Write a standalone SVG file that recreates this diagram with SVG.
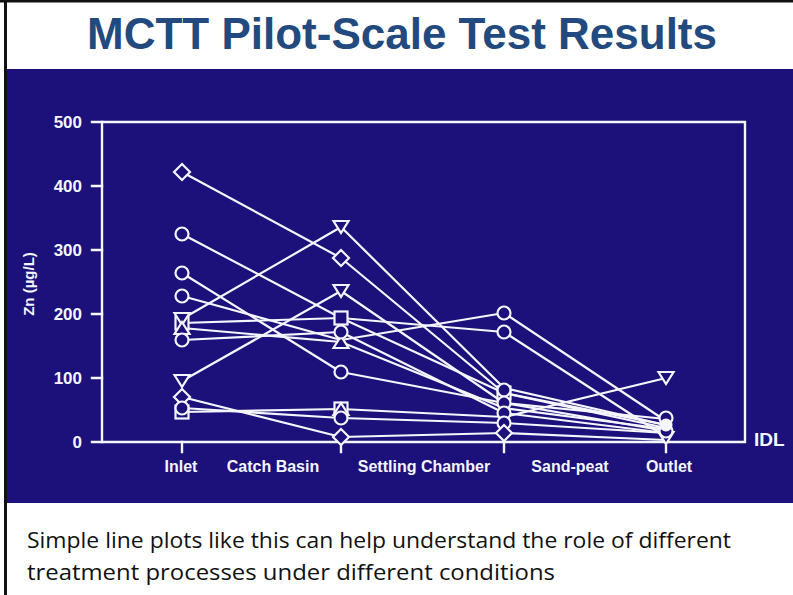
<svg xmlns="http://www.w3.org/2000/svg" width="793" height="595" viewBox="0 0 793 595">
<style>
.ax{stroke:#f4f6ff;stroke-width:2.4;fill:none;stroke-linecap:square}
.ln{stroke:#f4f6ff;stroke-width:2.2;fill:none;stroke-linejoin:round}
.mk{stroke:#f4f6ff;stroke-width:2.2;fill:#1c107a}
.lbl{font-family:"Liberation Sans",Arial,sans-serif;font-weight:bold;fill:#f4f6ff}
.tk{font-size:17px;text-anchor:end}
.xl{font-size:16px;text-anchor:middle}
</style>
<defs>
<circle id="ci" r="6.5" class="mk"/>
<path id="di" d="M0,-8 L8,0 L0,8 L-8,0 Z" class="mk"/>
<path id="td" d="M-7.5,-6 L7.5,-6 L0,6 Z" class="mk"/>
<path id="tu" d="M-7.5,6 L7.5,6 L0,-6 Z" class="mk"/>
<rect id="sq" x="-6.5" y="-6.5" width="13" height="13" class="mk"/>
</defs>
<rect x="0" y="0" width="793" height="595" fill="#ffffff"/>
<rect x="0" y="0" width="793" height="2.5" fill="#111"/>
<rect x="4" y="0" width="3" height="595" fill="#111"/>
<g id="title"><text x="402" y="49" font-family="'Liberation Sans',Arial,sans-serif" font-weight="bold" font-size="44" fill="#234a7e" text-anchor="middle">MCTT Pilot-Scale Test Results</text></g>
<rect id="panel" x="7" y="69" width="786" height="434" fill="#1c107a"/>
<g id="axes">
<path class="ax" d="M92,122 L745,122 L745,442 L92,442"/>
<path class="ax" d="M102,122 L102,442"/>
<path class="ax" d="M92,186 L102,186 M92,250 L102,250 M92,314 L102,314 M92,378 L102,378"/>
<path class="ax" d="M182,442 L182,452 M341,442 L341,452 M504,442 L504,452 M666,442 L666,452"/>
</g>
<g id="ticklabels" class="lbl tk">
<text x="82" y="128">500</text>
<text x="82" y="192">400</text>
<text x="82" y="256">300</text>
<text x="82" y="320">200</text>
<text x="82" y="384">100</text>
<text x="82" y="448">0</text>
</g>
<text class="lbl" font-size="15" text-anchor="middle" transform="translate(34,284) rotate(-90)">Zn (µg/L)</text>
<g id="xlabels" class="lbl xl">
<text x="181" y="472">Inlet</text>
<text x="273" y="472">Catch Basin</text>
<text x="424" y="472">Settling Chamber</text>
<text x="570" y="472">Sand-peat</text>
<text x="669" y="472">Outlet</text>
</g>
<text class="lbl" font-size="19" x="754" y="446">IDL</text>
<g id="connectors">
<polyline class="ln" points="182,172 341,258 504,393 666,428"/>
<polyline class="ln" points="182,319 341,227 504,388 666,425"/>
<polyline class="ln" points="182,381 341,291 504,403 666,431"/>
<polyline class="ln" points="182,234 341,318 504,332 666,437"/>
<polyline class="ln" points="182,273 341,372 504,403 666,419"/>
<polyline class="ln" points="182,296 341,340 504,313 666,421"/>
<polyline class="ln" points="182,323 341,318 504,393 666,425"/>
<polyline class="ln" points="182,340 341,332 504,413 666,433"/>
<polyline class="ln" points="182,328 341,342 504,408 666,429"/>
<polyline class="ln" points="182,397 341,437 504,433 666,440"/>
<polyline class="ln" points="182,408 341,418 504,423 666,433"/>
<polyline class="ln" points="182,412 341,409 504,417 666,378"/>
</g>
<g id="inlet">
<use href="#di" x="182" y="172"/>
<use href="#ci" x="182" y="234"/>
<use href="#ci" x="182" y="273"/>
<use href="#ci" x="182" y="296"/>
<use href="#sq" x="182" y="323"/>
<use href="#td" x="182" y="319"/>
<use href="#tu" x="182" y="328"/>
<use href="#ci" x="182" y="340"/>
<use href="#td" x="182" y="381"/>
<use href="#di" x="182" y="397"/>
<use href="#sq" x="182" y="412"/>
<use href="#ci" x="182" y="408"/>
</g>
<g id="catchbasin">
<use href="#td" x="341" y="227"/>
<use href="#di" x="341" y="258"/>
<use href="#td" x="341" y="291"/>
<use href="#tu" x="341" y="342"/>
<use href="#sq" x="341" y="318"/>
<use href="#ci" x="341" y="332"/>
<use href="#ci" x="341" y="372"/>
<use href="#sq" x="341" y="409"/>
<use href="#tu" x="341" y="409"/>
<use href="#ci" x="341" y="418"/>
<use href="#di" x="341" y="437"/>
</g>
<g id="settling">
<use href="#ci" x="504" y="313"/>
<use href="#ci" x="504" y="332"/>
<use href="#sq" x="504" y="393"/>
<use href="#ci" x="504" y="390"/>
<use href="#ci" x="504" y="403"/>
<use href="#ci" x="504" y="413"/>
<use href="#ci" x="504" y="423"/>
<use href="#di" x="504" y="433"/>
</g>
<g id="outlet">
<use href="#td" x="666" y="378"/>
<use href="#td" x="666" y="438"/>
<use href="#ci" x="666" y="431"/>
<use href="#ci" x="666" y="418"/>
<circle cx="666" cy="425" r="6.5" fill="#f4f6ff"/>
</g>
<g id="caption" font-family="'Open Sans','Liberation Sans',Arial,sans-serif" font-size="21" fill="#111">
<text x="27" y="548" textLength="704" lengthAdjust="spacingAndGlyphs">Simple line plots like this can help understand the role of different</text>
<text x="27" y="580" textLength="528" lengthAdjust="spacingAndGlyphs">treatment processes under different conditions</text>
</g>
</svg>
